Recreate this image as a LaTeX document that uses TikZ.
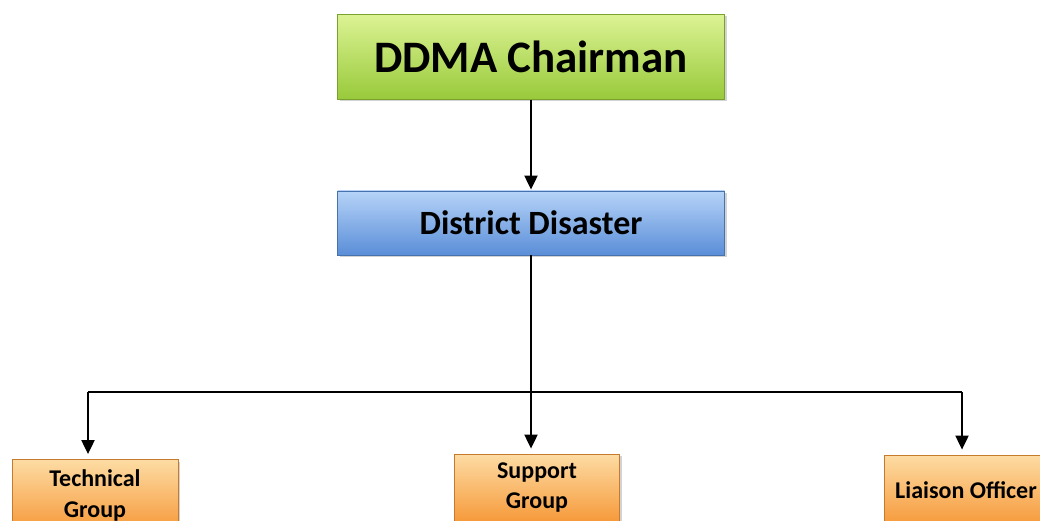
\documentclass[tikz,border=0pt]{standalone}
\usepackage{fontspec}
\setmainfont{Carlito}
\usetikzlibrary{arrows.meta,positioning,calc,shadows}
\definecolor{chairtop}{HTML}{DCF394}
\definecolor{chairbot}{HTML}{98C93A}
\definecolor{dmotop}{HTML}{B6D3F8}
\definecolor{dmobot}{HTML}{5A8ED8}
\definecolor{grptop}{HTML}{FDDCA4}
\definecolor{grpbot}{HTML}{F6993A}
\tikzset{
  box/.style={rectangle,draw=#1bot!80!black,line width=0.8pt,top color=#1top,bottom color=#1bot,
    drop shadow={opacity=0.35,shadow xshift=2pt,shadow yshift=-2pt},
    align=center,inner sep=2pt,font=\bfseries},
  link/.style={line width=2pt},
  arr/.style={link,-{Triangle[length=14pt,width=13pt]}}
}
\begin{document}
\begin{tikzpicture}[x=1pt,y=-1pt]
        \useasboundingbox (0,0) rectangle (1040,521);
        \clip (0,0) rectangle (1040,521);
        % draw boxes
        \node[box=chair,minimum width=387pt,minimum height=85pt,font=\bfseries\fontsize{45}{54}\selectfont] (chair) at (531,57) {DDMA Chairman};
        \node[box=dmo,minimum width=387pt,minimum height=64pt,font=\bfseries\fontsize{34}{40}\selectfont] (dmo) at (531,223) {District Disaster};
        \node[box=grp,minimum width=166pt,minimum height=71pt,font=\bfseries\fontsize{24}{31}\selectfont] (tech) at (95,495) {Technical\\Group};
        \node[box=grp,minimum width=165pt,minimum height=68pt,font=\bfseries\fontsize{24}{30}\selectfont] (supp) at (537,488) {Support\\Group};
        \node[box=grp,minimum width=164pt,minimum height=70pt,font=\bfseries\fontsize{24}{30}\selectfont] (liai) at (966,490) {Liaison Officer};
        % draw bus line
        \coordinate (bus) at (531,392);
        \coordinate (busL) at (88,392);
        \coordinate (busR) at (962,392);
        \draw[arr,shorten >=1pt] (chair.south) -- (dmo.north);
        \draw[link] (dmo.south) -- (bus);
        \draw[link] (busL) -- (busR);
        % draw arrows to groups
        \foreach \c/\n in {busL/tech,bus/supp,busR/liai}
        \draw[arr,shorten >=5pt] (\c) -- (\c |- \n.north);
\end{tikzpicture}
\end{document}
